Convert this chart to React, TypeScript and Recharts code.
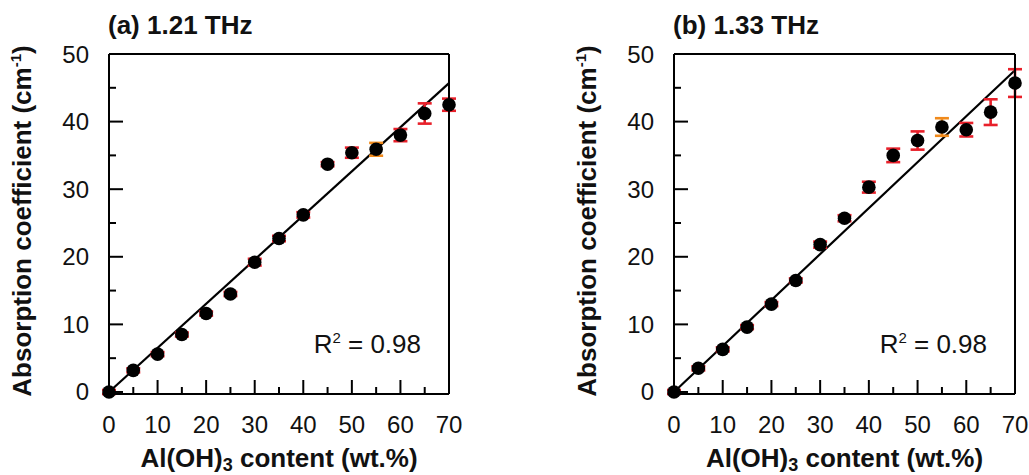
import { ScatterChart, Scatter, XAxis, YAxis, ErrorBar, ReferenceLine } from "recharts"

// Al(OH)3 content (wt.%)
const content = [0, 5, 10, 15, 20, 25, 30, 35, 40, 45, 50, 55, 60, 65, 70]

// (a) 1.21 THz
const absA = [0, 3.2, 5.6, 8.5, 11.6, 14.5, 19.2, 22.7, 26.2, 33.7, 35.4, 35.9, 38.0, 41.2, 42.5]
const errA = [0.3, 0.3, 0.3, 0.3, 0.3, 0.3, 0.5, 0.4, 0.4, 0.3, 0.75, 0.95, 0.9, 1.5, 0.9]
const fitEndA = 45.7

// (b) 1.33 THz
const absB = [0, 3.5, 6.3, 9.6, 13.0, 16.5, 21.8, 25.7, 30.3, 35.0, 37.2, 39.2, 38.8, 41.4, 45.7]
const errB = [0.3, 0.3, 0.3, 0.3, 0.3, 0.3, 0.45, 0.45, 0.8, 1.0, 1.35, 1.3, 1.0, 1.9, 2.05]
const fitEndB = 47.6

// the point whose error bar is drawn in orange
const orangeContent = [55]

const xTicks = [0, 5, 10, 15, 20, 25, 30, 35, 40, 45, 50, 55, 60, 65, 70]
const yTicks = [0, 5, 10, 15, 20, 25, 30, 35, 40, 45, 50]

const FONT = '"Liberation Sans", Arial, Helvetica, sans-serif'
const RED = "#e8202a"
const ORANGE = "#f08a1c"
const W = 1029
const H = 475

const AxisTick = (props: any) => {
  const { x, y, payload, side } = props
  const major = payload.value % 10 === 0
  const len = major ? 14 : 7
  let mark
  let label = null
  if (side === "bottom") {
    mark = <line x1={x} y1={y} x2={x} y2={y - len} stroke="#000" strokeWidth={2} />
    if (major)
      label = (
        <text x={x} y={y + 39} textAnchor="middle" fontSize={24} fontFamily={FONT} fill="#111">
          {payload.value}
        </text>
      )
  } else if (side === "top") {
    mark = <line x1={x} y1={y} x2={x} y2={y + len} stroke="#000" strokeWidth={2} />
  } else if (side === "left") {
    mark = <line x1={x} y1={y} x2={x + len} y2={y} stroke="#000" strokeWidth={2} />
    if (major)
      label = (
        <text x={x - 20} y={y + 8.5} textAnchor="end" fontSize={24} fontFamily={FONT} fill="#111">
          {payload.value}
        </text>
      )
  } else {
    mark = <line x1={x} y1={y} x2={x - len} y2={y} stroke="#000" strokeWidth={2} />
  }
  return (
    <g>
      {mark}
      {label}
    </g>
  )
}

const Dot = (props: any) => <circle cx={props.cx} cy={props.cy} r={6.8} fill="#000" />

const points = (ys: number[], errs: number[], orange: boolean) =>
  content
    .map((x, i) => ({ x, y: ys[i], err: errs[i] }))
    .filter((p) => orangeContent.includes(p.x) === orange)

interface PanelProps {
  title: string
  ys: number[]
  errs: number[]
  fitEnd: number
  plotLeft: number
  plotRight: number
}

function Panel({ title, ys, errs, fitEnd, plotLeft, plotRight }: PanelProps) {
  const top = 54
  const bottom = 394
  const midX = (plotLeft + plotRight) / 2
  const midY = 221
  const axisLine = { stroke: "#000", strokeWidth: 2 }
  // axes get a 1px box so that they are drawn; margins make up for it
  return (
    <div style={{ position: "absolute", left: 0, top: 0 }}>
      <ScatterChart
        width={W}
        height={H}
        margin={{ top: top - 1, bottom: H - bottom - 1, left: plotLeft - 1, right: W - plotRight - 1 }}
      >
        <XAxis
          type="number"
          dataKey="x"
          domain={[0, 70]}
          ticks={xTicks}
          interval={0}
          height={1}
          tickSize={0}
          tickMargin={0}
          tickLine={false}
          axisLine={axisLine}
          tick={(p: any) => <AxisTick {...p} side="bottom" />}
        />
        <XAxis
          xAxisId="top"
          orientation="top"
          type="number"
          domain={[0, 70]}
          ticks={xTicks}
          interval={0}
          height={1}
          tickSize={0}
          tickMargin={0}
          tickLine={false}
          axisLine={axisLine}
          tick={(p: any) => <AxisTick {...p} side="top" />}
        />
        <YAxis
          type="number"
          dataKey="y"
          domain={[0, 50]}
          ticks={yTicks}
          interval={0}
          width={1}
          tickSize={0}
          tickMargin={0}
          tickLine={false}
          axisLine={axisLine}
          tick={(p: any) => <AxisTick {...p} side="left" />}
        />
        <YAxis
          yAxisId="right"
          orientation="right"
          type="number"
          domain={[0, 50]}
          ticks={yTicks}
          interval={0}
          width={1}
          tickSize={0}
          tickMargin={0}
          tickLine={false}
          axisLine={axisLine}
          tick={(p: any) => <AxisTick {...p} side="right" />}
        />
        <ReferenceLine
          segment={[
            { x: 0, y: 0 },
            { x: 70, y: fitEnd },
          ]}
          stroke="#000"
          strokeWidth={2.2}
          ifOverflow="visible"
        />
        <Scatter data={points(ys, errs, false)} shape={Dot} isAnimationActive={false}>
          <ErrorBar dataKey="err" direction="y" width={7} stroke={RED} strokeWidth={2.6} isAnimationActive={false} />
        </Scatter>
        <Scatter data={points(ys, errs, true)} shape={Dot} isAnimationActive={false}>
          <ErrorBar dataKey="err" direction="y" width={7} stroke={ORANGE} strokeWidth={2.6} isAnimationActive={false} />
        </Scatter>
        <text x={plotLeft - 1} y={34} fontSize={26} fontWeight="bold" fontFamily={FONT} fill="#111">
          {title}
        </text>
        <text x={plotRight - 28} y={353} textAnchor="end" fontSize={26} fontFamily={FONT} fill="#111">
          R<tspan dy={-10} fontSize={15}>2</tspan>
          <tspan dy={10}> = 0.98</tspan>
        </text>
        <text x={midX} y={467} textAnchor="middle" fontSize={26} fontWeight="bold" fontFamily={FONT} fill="#111">
          Al(OH)<tspan dy={4} fontSize={18}>3</tspan>
          <tspan dy={-4}> content (wt.%)</tspan>
        </text>
        <text
          transform={`translate(${plotLeft - 78}, ${midY}) rotate(-90)`}
          textAnchor="middle"
          fontSize={26}
          fontWeight="bold"
          fontFamily={FONT}
          fill="#111"
        >
          Absorption coefficient (cm<tspan dy={-10} fontSize={15}>-1</tspan>
          <tspan dy={10}>)</tspan>
        </text>
      </ScatterChart>
    </div>
  )
}

export default function App() {
  return (
    <div style={{ position: "absolute", left: 0, top: 0, width: W, height: H, background: "#fff" }}>
      <Panel title="(a) 1.21 THz" ys={absA} errs={errA} fitEnd={fitEndA} plotLeft={109} plotRight={449} />
      <Panel title="(b) 1.33 THz" ys={absB} errs={errB} fitEnd={fitEndB} plotLeft={674} plotRight={1015} />
    </div>
  )
}
